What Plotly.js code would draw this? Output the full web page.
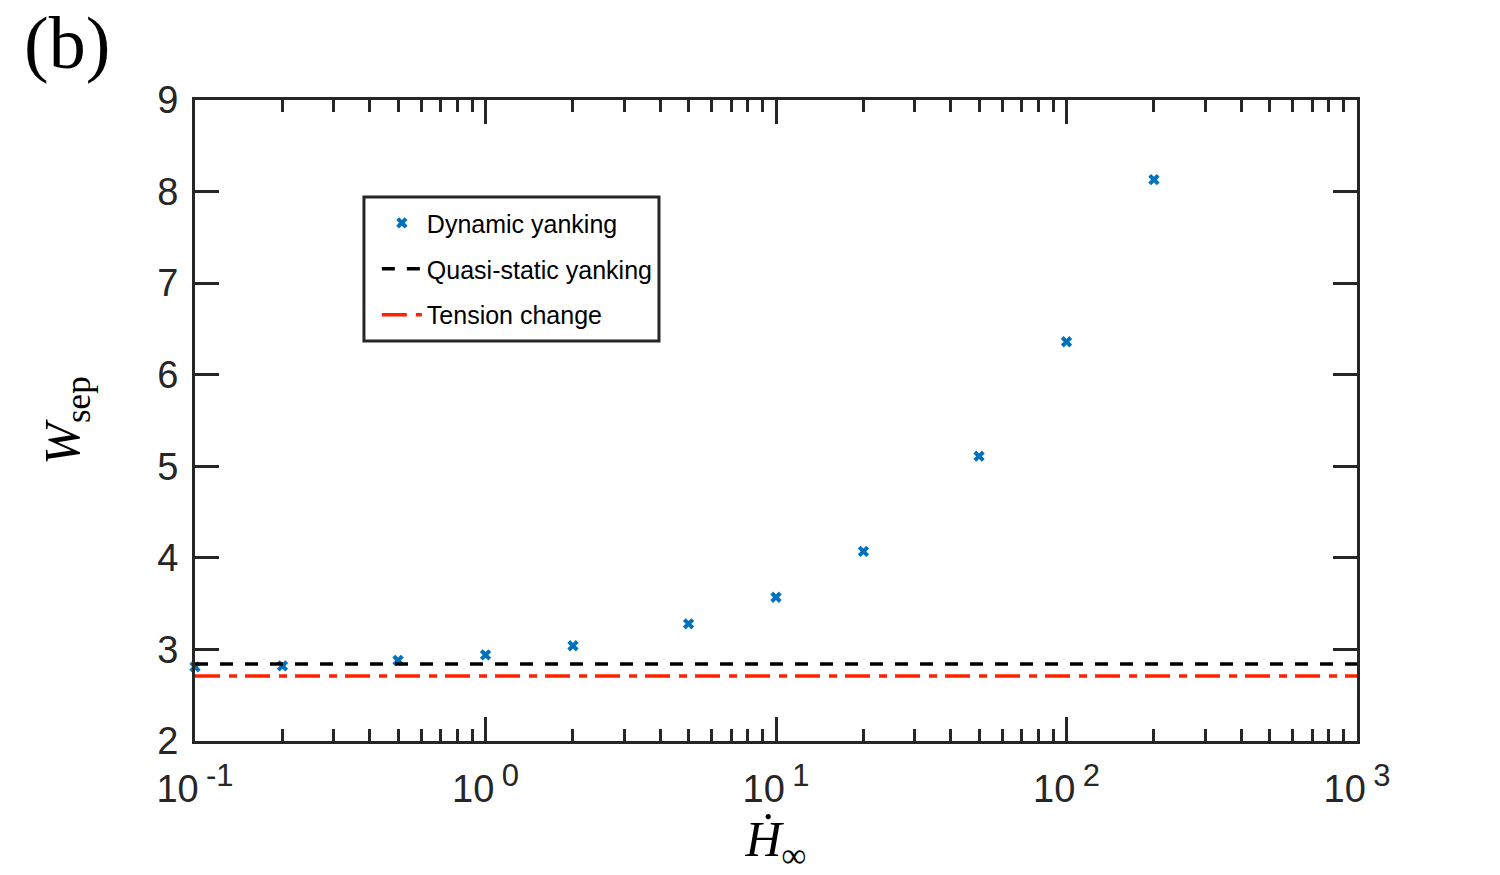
<!DOCTYPE html>
<html>
<head>
<meta charset="utf-8">
<script src="https://cdn.plot.ly/plotly-3.0.1.min.js"></script>
<style>html,body{margin:0;padding:0;background:#fff;}#plot{width:1500px;height:875px;}</style>
</head>
<body>
<div id="plot"></div>
<script>
// Data
const hdot = [0.1, 0.2, 0.5, 1, 2, 5, 10, 20, 50, 100, 200];
const wDynamic = [2.81, 2.82, 2.88, 2.94, 3.04, 3.28, 3.57, 4.07, 5.11, 6.36, 8.13];
const lineX = [0.1, 1000];
const wQuasiStatic = [2.84, 2.84];
const wTension = [2.71, 2.71];
const xTickVals = [0.1, 1, 10, 100, 1000];
const xTickExp = ['-1', '0', '1', '2', '3'];
const yTickVals = [2, 3, 4, 5, 6, 7, 8, 9];
const seriesNames = ['Dynamic yanking', 'Quasi-static yanking', 'Tension change'];

const axisColor = '#262626';
const xTickText = xTickExp.map(e => '10<sup> <span style="font-size:31px">' + e + '</span></sup>');

const traces = [
  {
    x: hdot, y: wDynamic, type: 'scatter', mode: 'markers', name: seriesNames[0],
    marker: {symbol: 'x', size: 10, color: '#0072BD'}, cliponaxis: false, legend: 'legend'
  },
  {
    x: lineX, y: wQuasiStatic, type: 'scatter', mode: 'lines', name: seriesNames[1],
    line: {color: '#000000', width: 3.5, dash: '13px,12px'}, legend: 'legend2'
  },
  {
    x: lineX, y: wTension, type: 'scatter', mode: 'lines', name: seriesNames[2],
    line: {color: '#FF2200', width: 3.5, dash: '25px,9px,8px,8px'}, legend: 'legend3'
  }
];

const legendCommon = {
  xanchor: 'left', yanchor: 'middle', bgcolor: 'rgba(0,0,0,0)', borderwidth: 0,
  font: {family: 'Liberation Sans, Arial, sans-serif', size: 25, color: '#000'},
  itemwidth: 40
};

const layout = {
  width: 1500, height: 875,
  paper_bgcolor: '#fff', plot_bgcolor: '#fff',
  margin: {l: 195, r: 143, t: 100, b: 134, pad: 0},
  showlegend: true,
  title: {
    text: '(b)', xref: 'container', yref: 'container', x: 0.016, xanchor: 'left',
    y: 0.952, yanchor: 'middle',
    font: {family: 'Liberation Serif, DejaVu Serif, serif', size: 74, color: '#000'}
  },
  xaxis: {
    type: 'log', range: [-1, 3], tickmode: 'array', tickvals: xTickVals, ticktext: xTickText,
    showgrid: false, zeroline: false, showline: true, linecolor: axisColor, linewidth: 3,
    mirror: 'ticks', ticks: 'inside', ticklen: 24, tickwidth: 3, tickcolor: axisColor,
    minor: {dtick: 'D1', ticks: 'inside', ticklen: 12, tickwidth: 3, tickcolor: axisColor, showgrid: false},
    tickfont: {family: 'Liberation Sans, Arial, sans-serif', size: 38, color: axisColor},
    ticklabelstandoff: 12,
    title: {
      text: '<i>Ḣ</i><sub>∞</sub>', standoff: 26,
      font: {family: 'Liberation Serif, DejaVu Serif, serif', size: 50, color: '#000'}
    }
  },
  yaxis: {
    range: [2, 9], tickmode: 'array', tickvals: yTickVals,
    showgrid: false, zeroline: false, showline: true, linecolor: axisColor, linewidth: 3,
    mirror: 'ticks', ticks: 'inside', ticklen: 24, tickwidth: 3, tickcolor: axisColor,
    tickfont: {family: 'Liberation Sans, Arial, sans-serif', size: 38, color: axisColor},
    ticklabelstandoff: 6,
    title: {
      text: '<i>W</i><sub>sep</sub>', standoff: 62,
      font: {family: 'Liberation Serif, DejaVu Serif, serif', size: 50, color: '#000'}
    }
  },
  legend: Object.assign({x: 0.1565, y: 0.808}, legendCommon),
  legend2: Object.assign({x: 0.1565, y: 0.7363}, legendCommon),
  legend3: Object.assign({x: 0.1565, y: 0.6646}, legendCommon),
  shapes: [{
    type: 'rect', xref: 'paper', yref: 'paper', x0: 0.1454, x1: 0.3993, y0: 0.624, y1: 0.8487,
    line: {color: axisColor, width: 3}, fillcolor: 'rgba(0,0,0,0)', layer: 'above'
  }]
};

Plotly.newPlot('plot', traces, layout, {displayModeBar: false, staticPlot: true});
</script>
</body>
</html>
